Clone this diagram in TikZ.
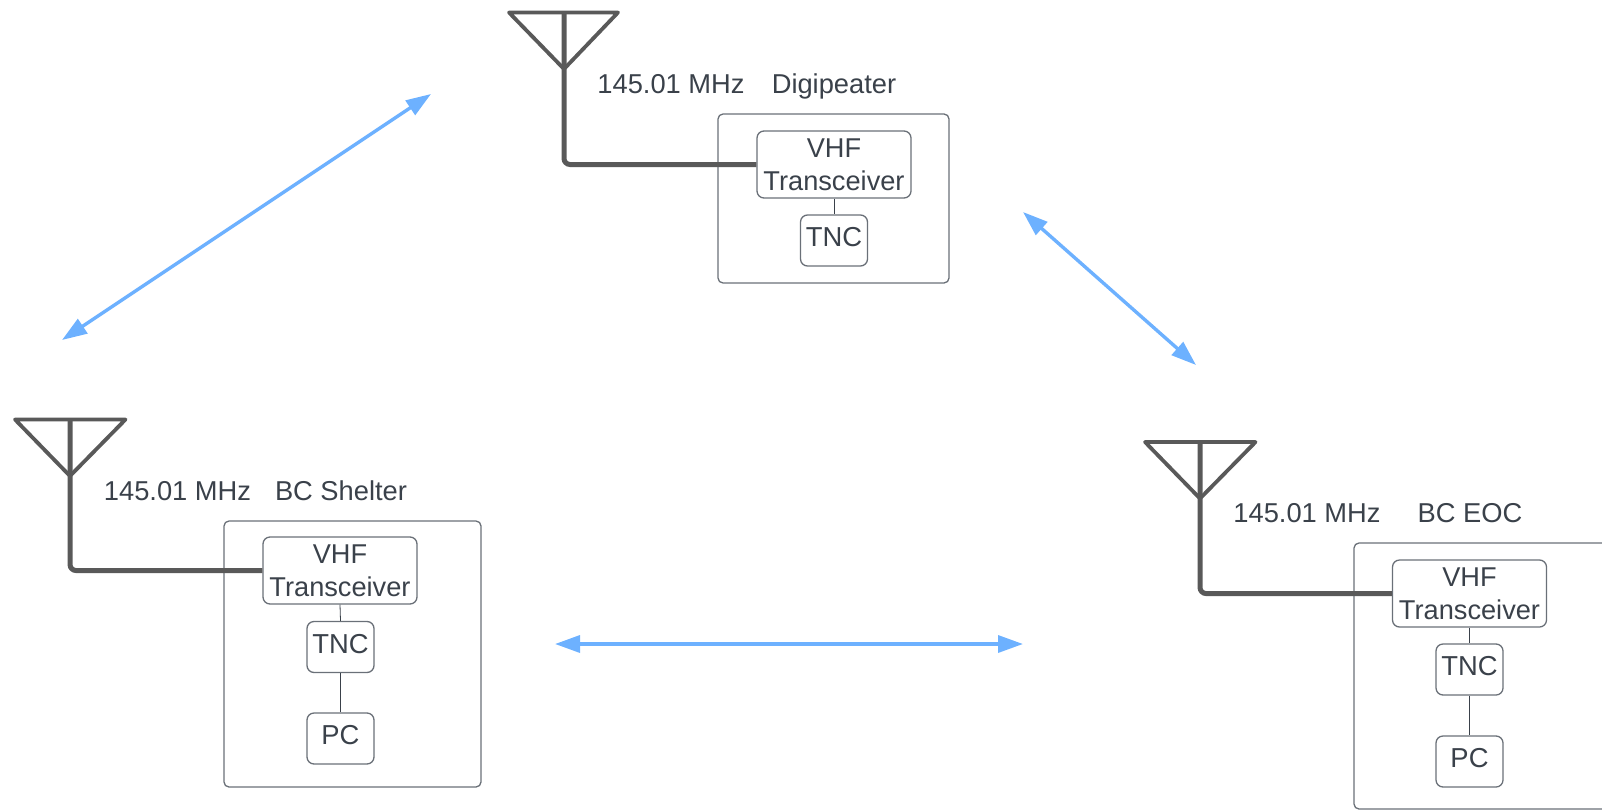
\documentclass[tikz,border=0pt]{standalone}
\usepackage{fontspec}
\setmainfont{Liberation Sans}
\usepackage{tikz}
\usetikzlibrary{arrows.meta}

\definecolor{inkgray}{HTML}{3A414A}
\definecolor{boxgray}{HTML}{6A7078}
\definecolor{mastgray}{HTML}{595959}
\definecolor{linkblue}{HTML}{6DB1FF}

\tikzset{
    housing/.style={draw=boxgray, line width=1.3pt, rounded corners=5pt, minimum width=#1, inner sep=0pt},
    radio/.style={draw=boxgray, line width=1.3pt, rounded corners=7pt, text=inkgray, align=center, inner sep=0pt, minimum width=154pt, minimum height=67pt, text depth=-3pt, font=\fontsize{27.2}{33}\selectfont},
    modem/.style={draw=boxgray, line width=1.3pt, rounded corners=7pt, text=inkgray, inner sep=0pt, minimum width=67pt, minimum height=51pt, text depth=7pt, font=\fontsize{27.4}{33}\selectfont},
    caption/.style={text=inkgray, inner sep=0pt, anchor=base, font=\fontsize{27.3}{32}\selectfont},
    antenna/.style={draw=mastgray, line width=3.8pt, line join=round},
    mast/.style={draw=mastgray, line width=5pt, rounded corners=6pt},
    wire/.style={draw=inkgray, line width=.8pt},
    radiolink/.style={draw=linkblue, line width=3.4pt, {Triangle[length=25pt,width=17pt]}-{Triangle[length=25pt,width=17pt]}},
}

\begin{document}
\begin{tikzpicture}[x=1pt,y=-1pt]
    \useasboundingbox (0,0) rectangle (1602,811);

    \node[housing=231pt, minimum height=169pt] (boxDigi) at (833.5,198.5) {};
    \node[radio] (vhfDigi) at (834,164.5) {VHF\\Transceiver};
    \node[modem] (tncDigi) at (834,240.5) {TNC};
    \draw[wire] (vhfDigi.south) -- (tncDigi.north);
    \node[caption] (freqDigi) at (671,93) {145.01 MHz};
    \node[caption] (nameDigi) at (834,93) {Digipeater};
    \coordinate (leftDigi) at (509,12.5);
    \coordinate (rightDigi) at (618,12.5);
    \coordinate (tipDigi) at (564,69);
    \coordinate (topDigi) at (564,12.5);
    \draw[antenna] (leftDigi) -- (rightDigi) -- (tipDigi) -- cycle;
    \draw[mast] (topDigi) |- (vhfDigi.west);

    \node[housing=257pt, minimum height=266pt] (boxShelter) at (352.5,654) {};
    \node[radio] (vhfShelter) at (340,570.5) {VHF\\Transceiver};
    \node[modem] (tncShelter) at (340.5,647) {TNC};
    \node[modem] (pcShelter) at (340.5,738.5) {PC};
    \draw[wire] (vhfShelter.south) -- (tncShelter.north);
    \draw[wire] (tncShelter) -- (pcShelter);
    \node[caption] (freqShelter) at (177.5,500) {145.01 MHz};
    \node[caption] (nameShelter) at (341,500) {BC Shelter};
    \coordinate (leftShelter) at (15,419.5);
    \coordinate (rightShelter) at (125.5,419.5);
    \coordinate (tipShelter) at (70,476);
    \coordinate (topShelter) at (70,418);
    \draw[antenna] (leftShelter) -- (rightShelter) -- (tipShelter) -- cycle;
    \draw[mast] (topShelter) |- (vhfShelter.west);

    \node[housing=270pt, minimum height=266pt] (boxEoc) at (1489,676) {};
    \node[radio] (vhfEoc) at (1469.5,593.5) {VHF\\Transceiver};
    \node[modem] (tncEoc) at (1469.5,669.5) {TNC};
    \node[modem] (pcEoc) at (1469.5,761.5) {PC};
    \draw[wire] (vhfEoc.south) -- (tncEoc.north);
    \draw[wire] (tncEoc) -- (pcEoc);
    \node[caption] (freqEoc) at (1307,522) {145.01 MHz};
    \node[caption] (nameEoc) at (1470,522) {BC EOC};
    \coordinate (leftEoc) at (1145,442);
    \coordinate (rightEoc) at (1255.5,442);
    \coordinate (tipEoc) at (1200,498.5);
    \coordinate (topEoc) at (1200,442);
    \draw[antenna] (leftEoc) -- (rightEoc) -- (tipEoc) -- cycle;
    \draw[mast] (topEoc) |- (vhfEoc.west);

    \coordinate (linkA) at (62,340);
    \coordinate (linkB) at (431,94);
    \coordinate (linkC) at (1023,212);
    \coordinate (linkD) at (1196,365);
    \coordinate (linkE) at (555,644);
    \coordinate (linkF) at (1023,644);
    \draw[radiolink] (linkA) -- (linkB);
    \draw[radiolink] (linkC) -- (linkD);
    \draw[radiolink] (linkE) -- (linkF);
\end{tikzpicture}
\end{document}
